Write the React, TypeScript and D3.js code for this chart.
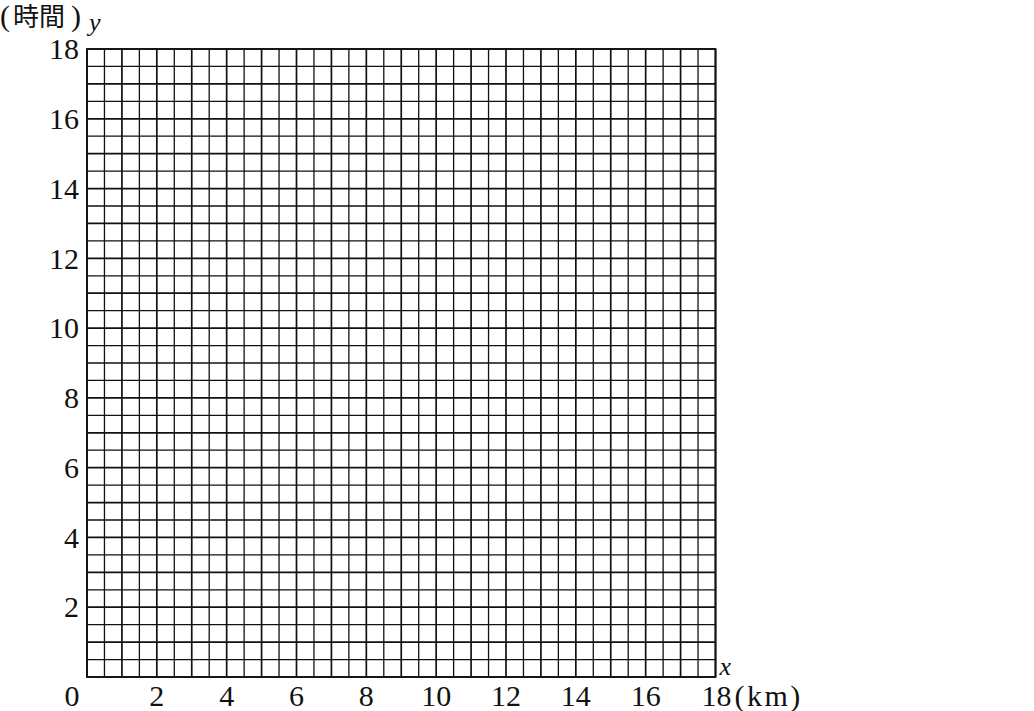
import React from 'react';
import * as d3 from 'd3';

const xTicks = [0, 2, 4, 6, 8, 10, 12, 14, 16, 18];
const yTicks = [2, 4, 6, 8, 10, 12, 14, 16, 18];
const xDomain = [0, 18];
const yDomain = [0, 18];
const gridStep = 0.5;
const xUnit = '(km)';
const yUnitWord = '時間';

export default function App() {
  const W = 1034, H = 711;
  const x = d3.scaleLinear().domain(xDomain).range([87, 715.5]);
  const y = d3.scaleLinear().domain(yDomain).range([677, 49]);
  const gridVals = d3.range(xDomain[0], xDomain[1] + gridStep / 2, gridStep);
  const isMajor = (v: number) => Math.abs(v - Math.round(v)) < 1e-6;
  const serif = "'Liberation Serif', 'DejaVu Serif', serif";
  const fs = 30;
  const baseY = 706;
  return (
    <svg width={W} height={H} style={{ position: 'absolute', left: 0, top: 0, background: '#fff' }}>
      <g>
        {gridVals.map((v) => (
          <line key={'v' + v} x1={x(v)} x2={x(v)} y1={y(yDomain[0])} y2={y(yDomain[1])}
            stroke="#111" strokeWidth={isMajor(v) ? 1.7 : 1.3} />
        ))}
        {gridVals.map((v) => (
          <line key={'h' + v} y1={y(v)} y2={y(v)} x1={x(xDomain[0])} x2={x(xDomain[1])}
            stroke="#111" strokeWidth={isMajor(v) ? 1.7 : 1.3} />
        ))}
        <rect x={x(0)} y={y(18)} width={x(18) - x(0)} height={y(0) - y(18)} fill="none" stroke="#111" strokeWidth={1.8} />
      </g>
      <g fontFamily={serif} fontSize={fs} fill="#111">
        {yTicks.map((t) => (
          <text key={'yt' + t} x={x(0) - 8} y={y(t)} dy="0.34em" textAnchor="end">{t}</text>
        ))}
        {xTicks.map((t) => {
          if (t === 0) return <text key="xt0" x={x(0) - 15} y={baseY} textAnchor="middle">0</text>;
          if (t === 18) return (
            <text key="xt18" x={x(t) - 14} y={baseY}>{t}<tspan dx={3} letterSpacing={2.5}>{xUnit}</tspan></text>
          );
          return <text key={'xt' + t} x={x(t)} y={baseY} textAnchor="middle">{t}</text>;
        })}
        <text x={x(18) + 4} y={675} fontStyle="italic" fontSize={26}>x</text>
        <text x={x(0) + 2} y={31} fontStyle="italic" fontSize={26}>y</text>
        <text x={0} y={26} fontSize={30}>(</text>
        <text x={13} y={26} fontSize={26} fontFamily="'Noto Sans CJK JP', sans-serif">{yUnitWord}</text>
        <text x={71} y={26} fontSize={30}>)</text>
      </g>
    </svg>
  );
}
